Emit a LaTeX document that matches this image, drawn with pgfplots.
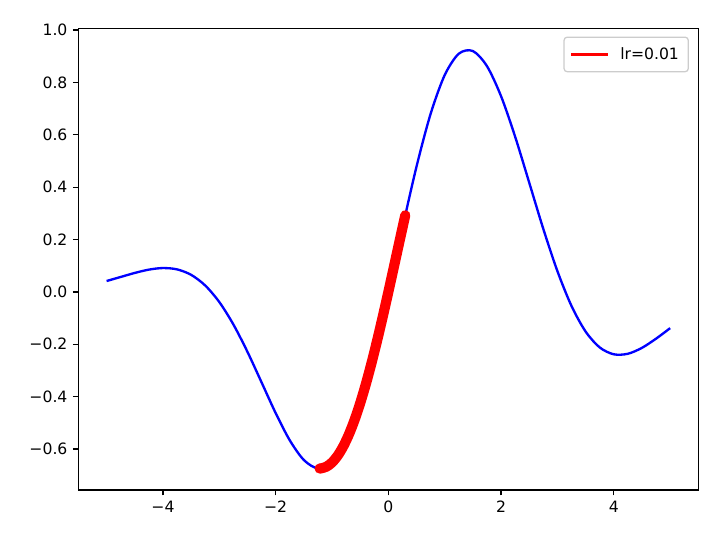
\documentclass[border=0pt]{standalone}
\usepackage{fontspec}
\setmainfont{DejaVu Sans}
\usepackage{pgfplots}
\pgfplotsset{compat=1.18}

\begin{document}
\begin{tikzpicture}
	\path[use as bounding box] (-50.2pt,-27.5pt) rectangle (410.7pt,313.6pt);
	\begin{axis}[
		at={(0,0)}, anchor=south west,
		width=396.8pt, height=295.2pt, scale only axis,
		xmin=-5.5, xmax=5.5, ymin=-0.756, ymax=1.005,
		xtick={-4,-2,0,2,4}, xticklabels={−4,−2,0,2,4},
		ytick={-0.6,-0.4,-0.2,0,0.2,0.4,0.6,0.8,1.0},
		yticklabels={−0.6,−0.4,−0.2,0.0,0.2,0.4,0.6,0.8,1.0},
		tick pos=left, tick align=outside, major tick length=3.5pt,
		every tick/.style={black, line width=0.8pt},
		axis line style={line width=0.8pt},
		tick label style={font=\fontsize{10}{12}\selectfont},
		legend style={at={(1,1)}, anchor=north east, xshift=-6pt, yshift=-5pt,
			draw=black!20, rounded corners=2pt, line width=0.8pt,
			font=\fontsize{10}{12}\selectfont, inner xsep=4pt, inner ysep=4.5pt,
			/tikz/every odd column/.append style={column sep=5pt}},
		legend cell align=left,
		legend image code/.code={\draw[#1] (0pt,0pt) -- (23.5pt,0pt);}
		]
		% f(x) on [-5,5]
		\addplot[blue, line width=1.5pt, smooth, forget plot] coordinates {
			(-5.00,0.04167) (-4.75,0.05710) (-4.50,0.07252) (-4.25,0.08515)
			(-4.00,0.09121) (-3.75,0.08615) (-3.50,0.06530) (-3.25,0.02458)
			(-3.00,-0.03861) (-2.75,-0.12426) (-2.50,-0.22892) (-2.25,-0.34536)
			(-2.00,-0.46252) (-1.75,-0.56643) (-1.50,-0.64176) (-1.25,-0.67395)
			(-1.00,-0.65142) (-0.75,-0.56808) (-0.50,-0.42479) (-0.25,-0.23016)
			(0.00,0.00000) (0.25,0.24439) (0.50,0.47895) (0.75,0.68011)
			(1.00,0.82811) (1.25,0.90972) (1.50,0.91988) (1.75,0.86209)
			(2.00,0.74745) (2.25,0.59263) (2.50,0.41713) (2.75,0.24039)
			(3.00,0.07933) (3.25,-0.05361) (3.50,-0.15128) (3.75,-0.21190)
			(4.00,-0.23820) (4.25,-0.23618) (4.50,-0.21357) (4.75,-0.17855)
			(5.00,-0.13835)};
		% gradient descent path, lr=0.01
		\addplot[red, line width=6.5pt, line cap=round, line join=round, smooth, forget plot] coordinates {
			(0.3,0.29287) (0.2,0.19552) (0.1,0.09737) (0.0,0.0)
			(-0.1,-0.09506) (-0.2,-0.18635) (-0.3,-0.27253) (-0.4,-0.35236)
			(-0.5,-0.42479) (-0.6,-0.48892) (-0.7,-0.54405) (-0.8,-0.58968)
			(-0.9,-0.62550) (-1.0,-0.65142) (-1.1,-0.66753) (-1.2,-0.67410)
			(-1.22,-0.67431)};
		\addlegendimage{red, line width=1.5pt}
		\addlegendentry{lr=0.01}
	\end{axis}
\end{tikzpicture}
\end{document}
